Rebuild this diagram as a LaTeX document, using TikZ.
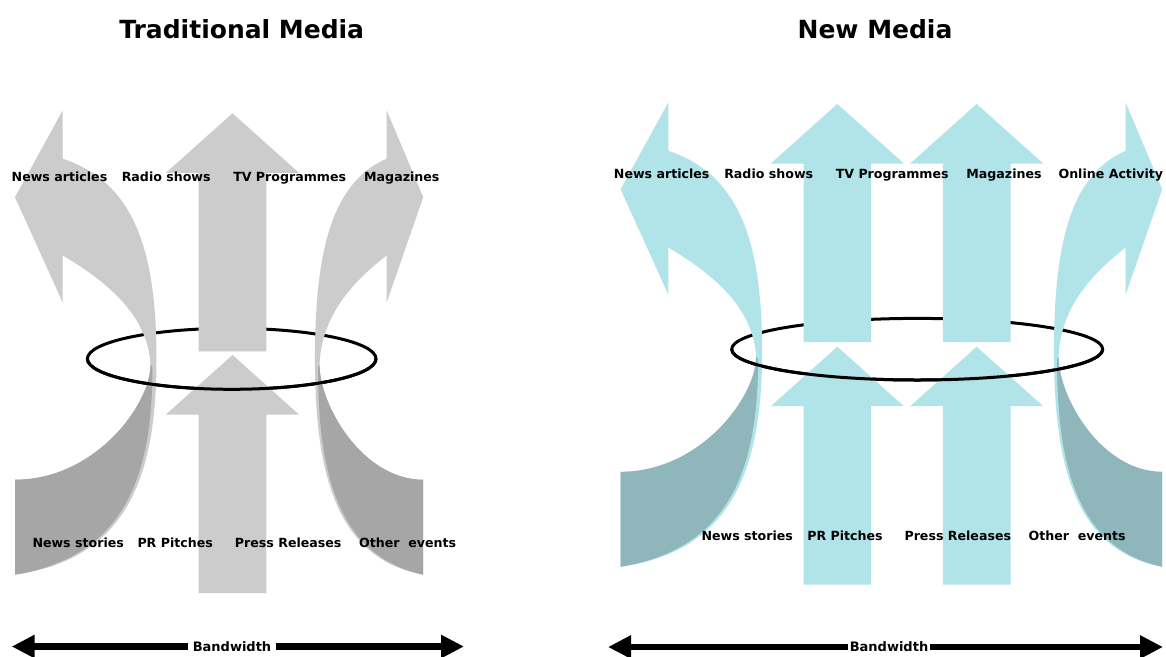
\documentclass[tikz,border=0pt]{standalone}
\usepackage{fontspec}
\setmainfont{DejaVu Sans}
\usetikzlibrary{arrows.meta}

\definecolor{greyface}{RGB}{204,204,204}
\definecolor{greyback}{RGB}{166,166,166}
\definecolor{aquaface}{RGB}{176,228,232}
\definecolor{aquaback}{RGB}{143,182,187}

\tikzset{
  % twisted ribbon arrow: tip at the origin, tail at the lower left
  pics/twistarrow/.style 2 args={code={
    \fill[#1] (0,0) -- (-47.7,86.8) -- (0,192) -- (0,145)
      .. controls (43,170.5) and (85.3,204.3) .. (87.8,254.3)
      .. controls (87.8,294.3) and (32.3,369.3) .. (-47.7,369.3)
      -- (-47.7,464.3)
      .. controls (62.3,448.6) and (93.8,369.3) .. (93.8,249.3)
      .. controls (93.8,139.3) and (71.3,72) .. (0,48.3) -- cycle;
    \fill[#2] (87.8,254.3)
      .. controls (87.8,294.3) and (32.3,369.3) .. (-47.7,369.3)
      -- (-47.7,464.3)
      .. controls (59.3,446.3) and (89.8,370) .. (89.8,257) -- cycle;
  }},
  % straight block arrow pointing up, tip at the origin
  pics/blockup/.style={code={
    \fill[#1] (0,0) -- (66.5,59.5) -- (33.8,59.5) -- (33.8,238)
      -- (-33.8,238) -- (-33.8,59.5) -- (-66.5,59.5) -- cycle;
  }},
  ring/.style={draw=black, line width=3pt},
  lbl/.style={font=\bfseries\fontsize{12.6}{15}\selectfont, inner sep=0pt, anchor=base},
  heading/.style={font=\bfseries\fontsize{25}{30}\selectfont, inner sep=0pt, anchor=base},
  bwtext/.style={font=\bfseries\fontsize{13}{15}\selectfont, inner ysep=0pt},
  bwline/.style={line width=6.5pt, -{Triangle[length=23pt,width=22pt]}},
}

\begin{document}
\begin{tikzpicture}[x=1pt, y=-1pt]
\useasboundingbox (0,0) rectangle (1166,656);
\fill[white] (0,0) rectangle (1166,656);

% ---------------- Traditional Media ----------------
\coordinate (ringA) at (231.7,358.8);
\draw[ring] (ringA) ellipse [x radius=144.3pt, y radius=30.5pt];

\pic at (62.7,110.4) {twistarrow={greyface}{greyback}};
\pic[xscale=-0.765] at (386.7,110.4) {twistarrow={greyface}{greyback}};
\pic at (232.5,113.3) {blockup=greyface};
\pic at (232.5,355) {blockup=greyface};

\draw[ring] (ringA) ++(-144.3pt,0pt)
  arc[start angle=180, end angle=360, x radius=144.3pt, y radius=30.5pt];

\node[heading] (titleA) at (241.7,38.3) {Traditional Media};

\node[lbl] (outA1) at (59.5,181.9) {News articles};
\node[lbl] (outA2) at (166.2,181.9) {Radio shows};
\node[lbl] (outA3) at (289.7,181.9) {TV Programmes};
\node[lbl] (outA4) at (401.8,181.9) {Magazines};

\node[lbl] (inA1) at (78.2,547.9) {News stories};
\node[lbl] (inA2) at (175.2,547.9) {PR Pitches};
\node[lbl] (inA3) at (288.2,547.9) {Press Releases};
\node[lbl] (inA4) at (407.7,547.9) {Other~~events};

\node[bwtext, inner xsep=5pt] (bwA) at (232,646.5) {Bandwidth};
\coordinate (bwAl) at (11.7,646.5);
\coordinate (bwAr) at (464,646.5);
\draw[bwline] (bwA.west) -- (bwAl);
\draw[bwline] (bwA.east) -- (bwAr);

% ---------------- New Media ----------------
\coordinate (ringB) at (917.2,349.2);
\draw[ring] (ringB) ellipse [x radius=185.5pt, y radius=30.8pt];

\pic at (668.3,102.5) {twistarrow={aquaface}{aquaback}};
\pic[xscale=-0.765] at (1125.7,102.5) {twistarrow={aquaface}{aquaback}};
\pic at (837.3,104) {blockup=aquaface};
\pic at (976.7,104) {blockup=aquaface};
\pic at (837.3,346.7) {blockup=aquaface};
\pic at (976.7,346.7) {blockup=aquaface};

\draw[ring] (ringB) ++(-185.5pt,0pt)
  arc[start angle=180, end angle=360, x radius=185.5pt, y radius=30.8pt];

\node[heading] (titleB) at (875,38.3) {New Media};

\node[lbl] (outB1) at (661.7,178.6) {News articles};
\node[lbl] (outB2) at (768.7,178.6) {Radio shows};
\node[lbl] (outB3) at (892.2,178.6) {TV Programmes};
\node[lbl] (outB4) at (1004,178.6) {Magazines};
\node[lbl] (outB5) at (1110.8,178.6) {Online Activity};

\node[lbl] (inB1) at (747.2,540.6) {News stories};
\node[lbl] (inB2) at (845,540.6) {PR Pitches};
\node[lbl] (inB3) at (957.8,540.6) {Press Releases};
\node[lbl] (inB4) at (1077.2,540.6) {Other~~events};

\node[bwtext, inner xsep=1.5pt] (bwB) at (889,647) {Bandwidth};
\coordinate (bwBl) at (608,647);
\coordinate (bwBr) at (1163,647);
\draw[bwline] (bwB.west) -- (bwBl);
\draw[bwline] (bwB.east) -- (bwBr);
\end{tikzpicture}
\end{document}
